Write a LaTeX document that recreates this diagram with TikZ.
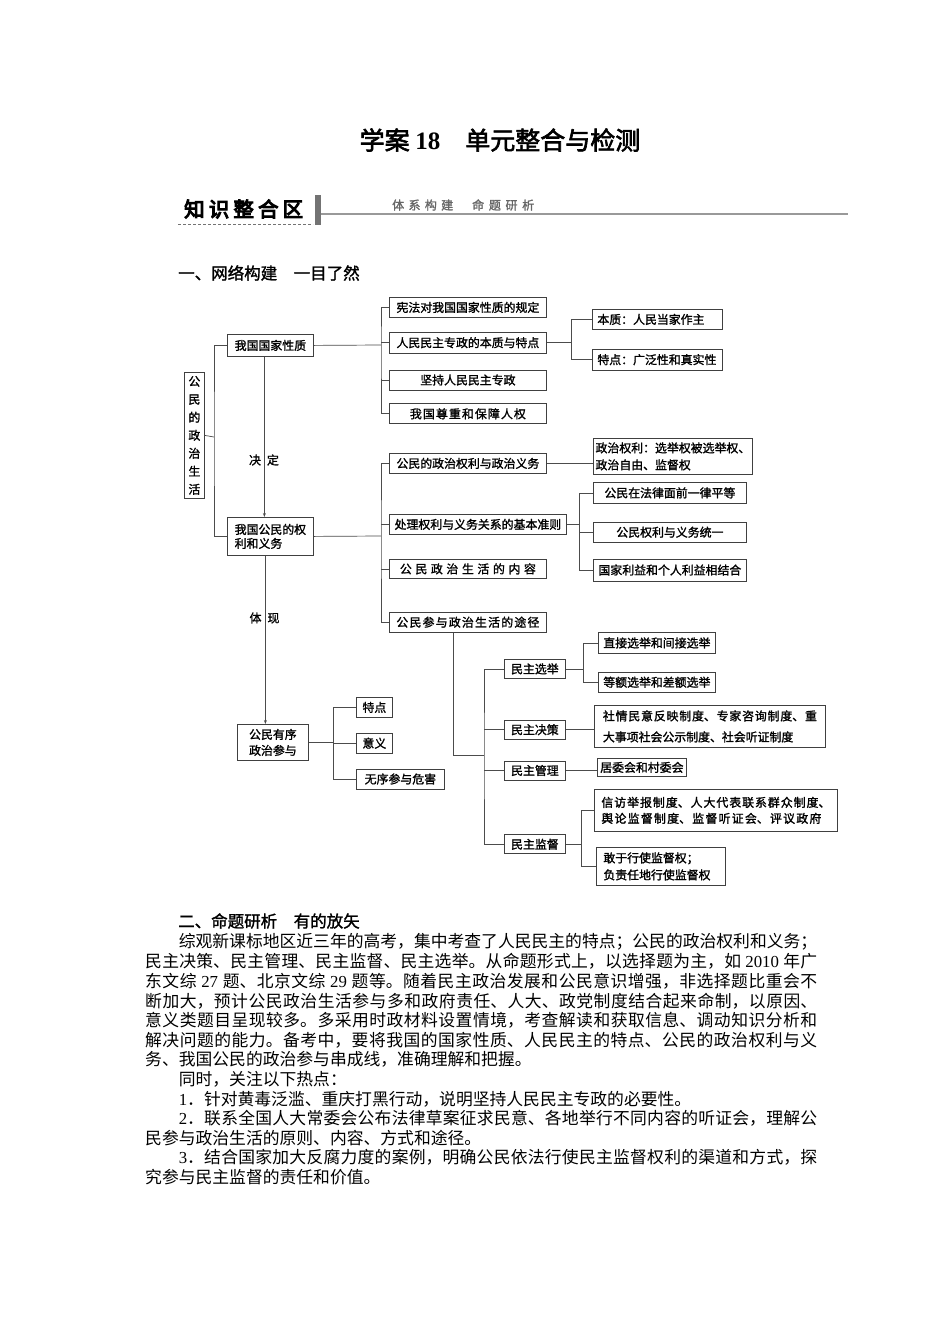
\documentclass[tikz,border=0pt]{standalone}
\usepackage{fontspec}
\usepackage{tikz}
\usetikzlibrary{arrows.meta,positioning}
\setmainfont{Liberation Serif}
\newfontfamily\cjk{Noto Sans CJK SC}
\newfontfamily\cjkmid[FakeBold=1.5]{Noto Sans CJK SC}
\newfontfamily\cjkbf[FakeBold=2.5]{Noto Sans CJK SC}
\newfontfamily\cjkheavy[FakeBold=5]{Noto Sans CJK SC}
\newcommand{\boxfont}{\cjkmid\fontsize{11.9}{17}\selectfont}
\newcommand{\bodyfont}{\cjk\fontsize{16.8}{19.6}\selectfont}
\newcommand{\jline}[2]{\parbox[t]{#1}{\XeTeXlinebreaklocale "zh"\XeTeXlinebreakskip=0pt plus 1pt\XeTeXlinebreakpenalty=10000\tolerance=10000\hbadness=10000\parfillskip=0pt #2}}

\begin{document}
\begin{tikzpicture}[x=1pt, y=-1pt,
  box/.style={draw=black!75, line width=0.8pt, inner sep=0pt, anchor=north west, font=\boxfont,
              minimum height=20pt},
  link/.style={draw=black!70, line width=0.7pt},
  arr/.style={link, -{Stealth[length=4pt, width=3pt]}},
  body/.style={anchor=west, inner sep=0pt, font=\bodyfont}]
\fill[white] (0,0) rectangle (950,1344);
\useasboundingbox (0,0) rectangle (950,1344);

\node[font=\cjkbf\fontsize{25}{25}\selectfont] (title) at (500,140) {学案 {\rmfamily\bfseries 18}　单元整合与检测};
\node[anchor=west, inner sep=0pt, font=\cjkheavy\fontsize{20.5}{20.5}\selectfont] (zone) at (184,209) {\jline{119pt}{知识整合区}};
\fill[black!55] (315,195) rectangle (321,225);
\draw[black!40, line width=1.5pt] (321,214) -- (848,214);
\draw[black!55, line width=0.8pt, dash pattern=on 3pt off 2pt] (178,224) -- (313,224);
\node[anchor=west, inner sep=0pt, text=black!60, font=\cjkmid\fontsize{12}{12}\selectfont] (tabs) at (392,205)
  {\jline{61pt}{体系构建}\hspace{19pt}\jline{62pt}{命题研析}};
\node[anchor=west, inner sep=0pt, font=\cjkmid\fontsize{16.5}{16.5}\selectfont] (sec1) at (178,273) {一、网络构建　一目了然};

\node[box, minimum width=20pt, minimum height=126pt, align=center, font=\cjkmid\fontsize{11.9}{18}\selectfont] (life) at (184,372) {公\\民\\的\\政\\治\\生\\活};
\node[box, minimum width=86pt, minimum height=22pt] (nature) at (227,334) {我国国家性质};
\node[box, minimum width=86pt, minimum height=38pt, align=left, font=\cjkmid\fontsize{11.9}{14}\selectfont] (rights) at (227,517) {我国公民的权\\利和义务};
\node[box, minimum width=71pt, minimum height=36pt, align=center, font=\cjkmid\fontsize{11.9}{16}\selectfont] (part) at (237,724) {公民有序\\政治参与};

\node[box, minimum width=157pt] (xianfa) at (389,297) {宪法对我国国家性质的规定};
\node[box, minimum width=157pt, minimum height=21pt, below=14pt of xianfa] (zhuanzheng) {人民民主专政的本质与特点};
\node[box, minimum width=157pt, below=16pt of zhuanzheng] (jianchi) {坚持人民民主专政};
\node[box, minimum width=157pt, below=13pt of jianchi] (renquan) {\jline{116pt}{我国尊重和保障人权}};
\node[box, minimum width=130pt, text width=120pt, align=left] (benzhi) at (592,309) {本质：人民当家作主};
\node[box, minimum width=130pt, minimum height=21pt, text width=120pt, align=left, below=19pt of benzhi] (tedian) {特点：广泛性和真实性};

\node[box, minimum width=157pt] (zhengzhi) at (389,453) {公民的政治权利与政治义务};
\node[box, minimum width=159pt, minimum height=36pt, align=left] (quanli) at (593,438) {政治权利：选举权被选举权、\\政治自由、监督权};
\node[box, minimum width=177pt] (zhunze) at (389,514) {处理权利与义务关系的基本准则};
\node[box, minimum width=153pt, minimum height=21pt] (pingdeng) at (593,482) {公民在法律面前一律平等};
\node[box, minimum width=153pt, below=18pt of pingdeng] (tongyi) {公民权利与义务统一};
\node[box, minimum width=153pt, minimum height=22pt, below=16pt of tongyi] (jiehe) {国家利益和个人利益相结合};
\node[box, minimum width=157pt, minimum height=19pt] (neirong) at (389,559) {\jline{136pt}{公民政治生活的内容}};
\node[box, minimum width=157pt, below=33pt of neirong] (tujing) {\jline{143pt}{公民参与政治生活的途径}};

\node[box, minimum width=61pt, minimum height=19pt] (xuanju) at (504,659) {民主选举};
\node[box, minimum width=61pt, minimum height=19pt, below=41pt of xuanju] (juece) {民主决策};
\node[box, minimum width=61pt, minimum height=19pt, below=21pt of juece] (guanli) {民主管理};
\node[box, minimum width=61pt, minimum height=19pt, below=54pt of guanli] (jiandu) {民主监督};
\node[box, minimum width=117pt, minimum height=21pt] (zhijie) at (598,632) {直接选举和间接选举};
\node[box, minimum width=117pt, below=18pt of zhijie] (denge) {等额选举和差额选举};
\node[box, minimum width=231pt, minimum height=42pt, align=left, font=\cjkmid\fontsize{11.9}{21}\selectfont] (sheqing) at (594,705)
  {\jline{214pt}{社情民意反映制度、专家咨询制度、重}\\大事项社会公示制度、社会听证制度};
\node[box, minimum width=89pt, minimum height=18pt] (juwei) at (597,758) {居委会和村委会};
\node[box, minimum width=243pt, minimum height=42pt, align=left, font=\cjkmid\fontsize{11.9}{16}\selectfont] (xinfang) at (594,789)
  {\jline{229pt}{信访举报制度、人大代表联系群众制度、}\\\jline{220pt}{舆论监督制度、监督听证会、评议政府}};
\node[box, minimum width=129pt, minimum height=38pt, text width=115pt, align=left] (ganyu) at (596,847) {敢于行使监督权；\\负责任地行使监督权};

\node[box, minimum width=36pt] (tedian2) at (356,697) {特点};
\node[box, minimum width=36pt, below=15pt of tedian2] (yiyi) {意义};
\node[box, minimum width=88pt, below=15pt of yiyi.south west, anchor=north west] (wuxu) {无序参与危害};

\node[font=\boxfont, inner sep=0pt] (jueding) at (264,460) {决\hspace{6pt}定};
\node[font=\boxfont, inner sep=0pt] (tixian) at (264.5,618) {体\hspace{6pt}现};

\coordinate (s1) at (214,437);
\coordinate (s2) at (381,345);
\coordinate (s3) at (381,536);
\coordinate (s4) at ([xshift=25pt]zhuanzheng.east);
\coordinate (s5) at ([xshift=13pt]zhunze.east);
\coordinate (s6) at (484,755);
\coordinate (s7) at ([xshift=18pt]xuanju.east);
\coordinate (s8) at ([xshift=16pt]jiandu.east);
\coordinate (s9) at ([xshift=25pt]part.east);

\draw[link] (life.east) -- (s1);
\draw[link] (nature.west) -| (s1) |- (rights.west);
\draw[link] (nature.east) -- (s2);
\draw[link] (xianfa.west) -| (s2) |- (renquan.west);
\draw[link] (zhuanzheng.west) -- (zhuanzheng.west -| s2);
\draw[link] (jianchi.west) -- (jianchi.west -| s2);
\draw[link] (zhuanzheng.east) -- (s4);
\draw[link] (benzhi.west) -| (s4) |- (tedian.west);
\draw[link] (rights.east) -- (s3);
\draw[link] (zhengzhi.west) -| (s3) |- (tujing.west);
\draw[link] (zhunze.west) -- (zhunze.west -| s3);
\draw[link] (neirong.west) -- (neirong.west -| s3);
\draw[link] (zhengzhi.east) -- (zhengzhi.east -| quanli.west);
\draw[link] (zhunze.east) -- (s5);
\draw[link] (pingdeng.west) -| (s5) |- (jiehe.west);
\draw[link] (tongyi.west) -- (tongyi.west -| s5);
\draw[link] ([xshift=64pt]tujing.south west) |- (s6);
\draw[link] (xuanju.west) -| (s6) |- (jiandu.west);
\draw[link] (juece.west) -- (juece.west -| s6);
\draw[link] (guanli.west) -- (guanli.west -| s6);
\draw[link] (xuanju.east) -- (s7);
\draw[link] (zhijie.west) -| (s7) |- (denge.west);
\draw[link] (juece.east) -- (juece.east -| sheqing.west);
\draw[link] (guanli.east) -- (guanli.east -| juwei.west);
\draw[link] (jiandu.east) -- (s8);
\draw[link] (xinfang.west) -| (s8) |- (ganyu.west);
\draw[link] (part.east) -- (s9);
\draw[link] (tedian2.west) -| (s9) |- (wuxu.west);
\draw[link] (yiyi.west) -- (yiyi.west -| s9);
\draw[arr] ([xshift=-6pt]nature.south) -- ([xshift=-6pt]nature.south |- rights.north);
\draw[arr] ([xshift=-5pt]rights.south) -- ([xshift=-5pt]rights.south |- part.north);

\node[anchor=west, inner sep=0pt, font=\cjkmid\fontsize{16.5}{16.5}\selectfont] (sec2) at (178,921) {二、命题研析　有的放矢};
\node[body] (p1) at (178.6,942) {\jline{638.4pt}{综观新课标地区近三年的高考，集中考查了人民民主的特点；公民的政治权利和义务；}};
\node[body] (p2) at (145,961.6) {\jline{672pt}{民主决策、民主管理、民主监督、民主选举。从命题形式上，以选择题为主，如 {\rmfamily 2010} 年广}};
\node[body] (p3) at (145,981.2) {\jline{672pt}{东文综 {\rmfamily 27} 题、北京文综 {\rmfamily 29} 题等。随着民主政治发展和公民意识增强，非选择题比重会不}};
\node[body] (p4) at (145,1000.8) {\jline{672pt}{断加大，预计公民政治生活参与多和政府责任、人大、政党制度结合起来命制，以原因、}};
\node[body] (p5) at (145,1020.4) {\jline{672pt}{意义类题目呈现较多。多采用时政材料设置情境，考查解读和获取信息、调动知识分析和}};
\node[body] (p6) at (145,1040) {\jline{672pt}{解决问题的能力。备考中，要将我国的国家性质、人民民主的特点、公民的政治权利与义}};
\node[body] (p7) at (145,1059.6) {务、我国公民的政治参与串成线，准确理解和把握。};
\node[body] (p8) at (178.6,1079.2) {同时，关注以下热点：};
\node[body] (p9) at (178.6,1098.8) {{\rmfamily 1}．针对黄毒泛滥、重庆打黑行动，说明坚持人民民主专政的必要性。};
\node[body] (p10) at (178.6,1118.4) {\jline{638.4pt}{{\rmfamily 2}．联系全国人大常委会公布法律草案征求民意、各地举行不同内容的听证会，理解公}};
\node[body] (p11) at (145,1138) {民参与政治生活的原则、内容、方式和途径。};
\node[body] (p12) at (178.6,1157.6) {\jline{638.4pt}{{\rmfamily 3}．结合国家加大反腐力度的案例，明确公民依法行使民主监督权利的渠道和方式，探}};
\node[body] (p13) at (145,1177.2) {究参与民主监督的责任和价值。};
\end{tikzpicture}
\end{document}
